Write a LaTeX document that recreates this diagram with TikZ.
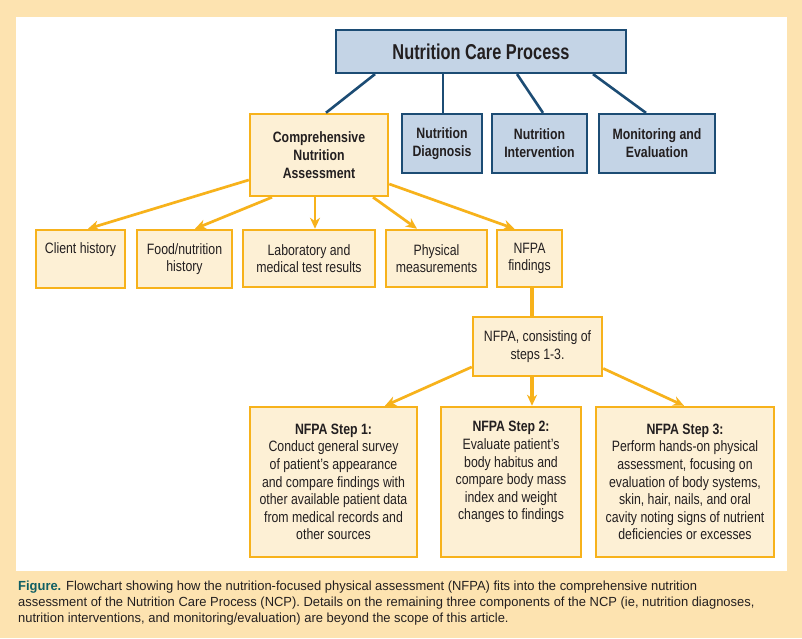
\documentclass[tikz,border=0pt]{standalone}
\usepackage{fontspec}
\setmainfont{Liberation Sans}[FakeStretch=0.82]
\newfontfamily\titlefont{Liberation Sans}[FakeStretch=0.76]
\newfontfamily\capfont{Liberation Sans}[FakeStretch=0.98]
\usetikzlibrary{arrows.meta}
\definecolor{bgor}{HTML}{FDE3B0}
\definecolor{orline}{HTML}{F7B21B}
\definecolor{orfill}{HTML}{FDF0D5}
\definecolor{blfill}{HTML}{C4D4E6}
\definecolor{blline}{HTML}{1C4C74}
\definecolor{txt}{HTML}{231F20}
\definecolor{teal}{HTML}{0F5E63}
\tikzset{
  box/.style={draw, rectangle, inner sep=0pt, align=center, text=txt,
    font=\fontsize{15}{17.6}\selectfont},
  obox/.style={box, draw=orline, fill=orfill, line width=2.5pt},
  bbox/.style={box, draw=blline, fill=blfill, line width=2.2pt},
  bline/.style={draw=blline, line width=2.6pt},
  oarrow/.style={draw=orline, line width=2.7pt, -{Stealth[length=11pt,width=10pt,inset=3.5pt]}},
  oline/.style={draw=orline, line width=3.6pt},
}
\begin{document}
\begin{tikzpicture}[x=1pt,y=-1pt]
\useasboundingbox (0,0) rectangle (802,638);
\fill[bgor] (0,0) rectangle (802,638);
\fill[white] (16,17) rectangle (787,571);

\node[bbox, minimum width=290, minimum height=43, font=\titlefont\bfseries\fontsize{21.5}{24}\selectfont] (ncp) at (481,51.5) {Nutrition Care Process};
\node[obox, minimum width=138, minimum height=82, font=\bfseries\fontsize{15}{17.8}\selectfont] (cna) at (319,155) {Comprehensive\\Nutrition\\Assessment};
\node[bbox, minimum width=80, minimum height=59, font=\bfseries\fontsize{15}{18}\selectfont] (diag) at (442,143.5) {Nutrition\\Diagnosis};
\node[bbox, minimum width=95, minimum height=59, font=\bfseries\fontsize{15}{18}\selectfont] (interv) at (539.5,143.5) {Nutrition\\Intervention};
\node[bbox, minimum width=116, minimum height=59, font=\bfseries\fontsize{15}{18}\selectfont] (monit) at (657,143.5) {Monitoring and\\Evaluation};

\node[obox, minimum width=89, minimum height=58] (client) at (80.5,259) {Client history\\\strut};
\node[obox, minimum width=95, minimum height=58] (food) at (184.5,259) {Food/nutrition\\history};
\node[obox, minimum width=132, minimum height=57] (lab) at (309,258.5) {Laboratory and\\medical test results};
\node[obox, minimum width=101, minimum height=57] (phys) at (436.5,258.5) {Physical\\measurements};
\node[obox, minimum width=65, minimum height=57] (find) at (529.5,258.5) {NFPA\\findings};

\node[obox, minimum width=129, minimum height=59] (consist) at (537.5,346.5) {NFPA, consisting of\\steps 1-3.};

\node[obox, minimum width=167, minimum height=150] (step1) at (333.5,482) {\textbf{NFPA Step 1:}\\Conduct general survey\\of patient’s appearance\\and compare findings with\\other available patient data\\from medical records and\\other sources};
\node[obox, minimum width=140, minimum height=150] (step2) at (511,482) {\textbf{NFPA Step 2:}\\Evaluate patient’s\\body habitus and\\compare body mass\\index and weight\\changes to findings\\\strut};
\node[obox, minimum width=178, minimum height=150] (step3) at (685,482) {\textbf{NFPA Step 3:}\\Perform hands-on physical\\assessment, focusing on\\evaluation of body systems,\\skin, hair, nails, and oral\\cavity noting signs of nutrient\\deficiencies or excesses};

% blue connectors
\draw[bline] ([xshift=-106pt]ncp.south) -- ([xshift=7pt]cna.north);
\draw[bline] ([xshift=-38pt]ncp.south) -- ([xshift=1pt]diag.north);
\draw[bline] ([xshift=36pt]ncp.south) -- ([xshift=3.5pt]interv.north);
\draw[bline] ([xshift=112pt]ncp.south) -- ([xshift=-11pt]monit.north);

% orange arrows from assessment
\draw[oarrow] ([yshift=-25pt]cna.west) -- ([xshift=7.5pt]client.north);
\draw[oarrow] ([xshift=-47pt]cna.south) -- ([xshift=10.5pt]food.north);
\draw[oarrow] ([xshift=-4pt]cna.south) -- ([xshift=6pt]lab.north);
\draw[oarrow] ([xshift=54pt]cna.south) -- ([xshift=-19.5pt]phys.north);
\draw[oarrow] ([yshift=-29pt]cna.east) -- ([xshift=-15pt]find.north);

\draw[oline] ([xshift=2.5pt]find.south) -- ([xshift=-5.5pt]consist.north);

\draw[oarrow] ([yshift=-20.5pt]consist.west) -- ([xshift=51.5pt]step1.north);
\draw[oarrow, line width=3.2pt] ([xshift=-5.5pt]consist.south) -- ([xshift=21pt]step2.north);
\draw[oarrow] ([yshift=-22pt]consist.east) -- ([xshift=-1pt]step3.north);

\node[anchor=north west, inner sep=0pt, align=left, text=txt, font=\capfont\fontsize{13.2}{16}\selectfont] (cap) at (18,580.5)
 {\textcolor{teal}{\textbf{Figure.}} Flowchart showing how the nutrition-focused physical assessment (NFPA) fits into the comprehensive nutrition\\
 assessment of the Nutrition Care Process (NCP). Details on the remaining three components of the NCP (ie, nutrition diagnoses,\\
 nutrition interventions, and monitoring/evaluation) are beyond the scope of this article.};
\end{tikzpicture}
\end{document}
